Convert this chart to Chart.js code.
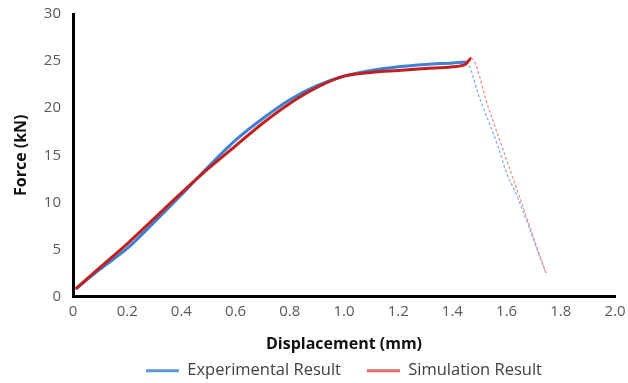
<!DOCTYPE html>
<html>
<head>
<meta charset="utf-8">
<script src="https://cdn.jsdelivr.net/npm/chart.js@4"></script>
<style>
  html, body { margin: 0; padding: 0; background: #fff; }
  #wrap { width: 628px; height: 383px; }
</style>
</head>
<body>
<div id="wrap"><canvas id="myChart" width="628" height="383"></canvas></div>
<script>
// experimental curve, rising part then the dashed drop after the peak
var expX = [0.01, 0.1, 0.2, 0.3, 0.4, 0.5, 0.6, 0.7, 0.8, 0.9, 1.0, 1.1, 1.2, 1.3, 1.4, 1.45,
            1.50, 1.57, 1.60, 1.635, 1.71, 1.745];
var expY = [0.8, 2.9, 5.1, 7.9, 10.8, 13.8, 16.6, 18.9, 20.9, 22.4, 23.4, 24.0, 24.4, 24.65, 24.8, 24.9,
            21.1, 15.8, 13.1, 10.9, 5.2, 2.5];
var expPeak = 15; // index where the dashed part begins

var simX = [0.01, 0.1, 0.2, 0.3, 0.4, 0.5, 0.6, 0.7, 0.8, 0.9, 1.0, 1.1, 1.2, 1.3, 1.4, 1.45, 1.47,
            1.53, 1.60, 1.645, 1.71, 1.745];
var simY = [0.8, 3.1, 5.6, 8.3, 11.0, 13.6, 16.0, 18.4, 20.5, 22.2, 23.4, 23.8, 24.0, 24.2, 24.4, 24.7, 25.3,
            20.3, 14.5, 10.8, 5.4, 2.5];
var simPeak = 16;

var xTicks = [0, 0.2, 0.4, 0.6, 0.8, 1.0, 1.2, 1.4, 1.6, 1.8, 2.0];
var yTicks = [0, 5, 10, 15, 20, 25, 30];

function pts(xs, ys) {
  return xs.map(function (x, i) { return { x: x, y: ys[i] }; });
}

var tickFont = { family: 'Open Sans', size: 15 };
var titleFont = { family: 'Open Sans', size: 16, weight: 'bold' };

var ctx = document.getElementById('myChart').getContext('2d');
var myChart = new Chart(ctx, {
  type: 'scatter',
  data: {
    datasets: [{
      label: 'Experimental Result',
      data: pts(expX, expY),
      showLine: true,
      borderColor: '#3f80d3',
      backgroundColor: '#5b9bd5',
      borderWidth: 3,
      pointRadius: 0,
      cubicInterpolationMode: 'monotone',
      order: 1,
      segment: {
        borderDash: function (c) { return c.p0DataIndex >= expPeak ? [3, 2] : undefined; },
        borderWidth: function (c) { return c.p0DataIndex >= expPeak ? 1.2 : undefined; },
        borderColor: function (c) { return c.p0DataIndex >= expPeak ? '#7aaee6' : undefined; }
      }
    }, {
      label: 'Simulation Result',
      data: pts(simX, simY),
      showLine: true,
      borderColor: '#c0201f',
      backgroundColor: '#e46c6c',
      borderWidth: 3,
      pointRadius: 0,
      cubicInterpolationMode: 'monotone',
      order: 0,
      segment: {
        borderDash: function (c) { return c.p0DataIndex >= simPeak ? [3, 2] : undefined; },
        borderWidth: function (c) { return c.p0DataIndex >= simPeak ? 1.2 : undefined; },
        borderColor: function (c) { return c.p0DataIndex >= simPeak ? '#ee8a8a' : undefined; }
      }
    }]
  },
  options: {
    responsive: false,
    animation: false,
    layout: { padding: { left: 0, right: 13, top: 14, bottom: -6 } },
    scales: {
      x: {
        type: 'linear',
        min: 0,
        max: 2.0,
        afterBuildTicks: function (s) { s.ticks = xTicks.map(function (v) { return { value: v }; }); },
        afterFit: function (s) { s.height = 40; s.paddingLeft = 0; s.paddingRight = 0; },
        ticks: {
          color: '#595959',
          font: tickFont,
          padding: 6,
          callback: function (v) { return v === 0 ? '0' : v.toFixed(1); }
        },
        grid: { display: false, drawTicks: false },
        border: { color: '#000', width: 3 },
        title: {
          display: true,
          text: 'Displacement (mm)',
          color: '#111',
          font: titleFont,
          padding: { top: 0, bottom: -18 }
        }
      },
      y: {
        min: 0,
        max: 30,
        afterBuildTicks: function (s) { s.ticks = yTicks.map(function (v) { return { value: v }; }); },
        afterFit: function (s) { s.width = 73; s.paddingTop = 0; s.paddingBottom = 0; },
        ticks: { color: '#595959', font: tickFont, padding: 12 },
        grid: { display: false, drawTicks: false },
        border: { color: '#000', width: 3 },
        title: {
          display: true,
          text: 'Force (kN)',
          color: '#111',
          font: titleFont,
          padding: { top: 12, bottom: 0 }
        }
      }
    },
    plugins: {
      legend: {
        position: 'bottom',
        fullSize: false,
        labels: {
          color: '#404040',
          font: { family: 'Open Sans', size: 16.5 },
          boxWidth: 33,
          boxHeight: 3,
          padding: 26,
          sort: function (a, b) { return a.datasetIndex - b.datasetIndex; },
          generateLabels: function (chart) {
            var items = Chart.defaults.plugins.legend.labels.generateLabels(chart);
            items.forEach(function (it) { it.lineWidth = 0; it.strokeStyle = it.fillStyle; });
            return items;
          }
        }
      },
      tooltip: { enabled: false }
    }
  }
});
</script>
</body>
</html>
